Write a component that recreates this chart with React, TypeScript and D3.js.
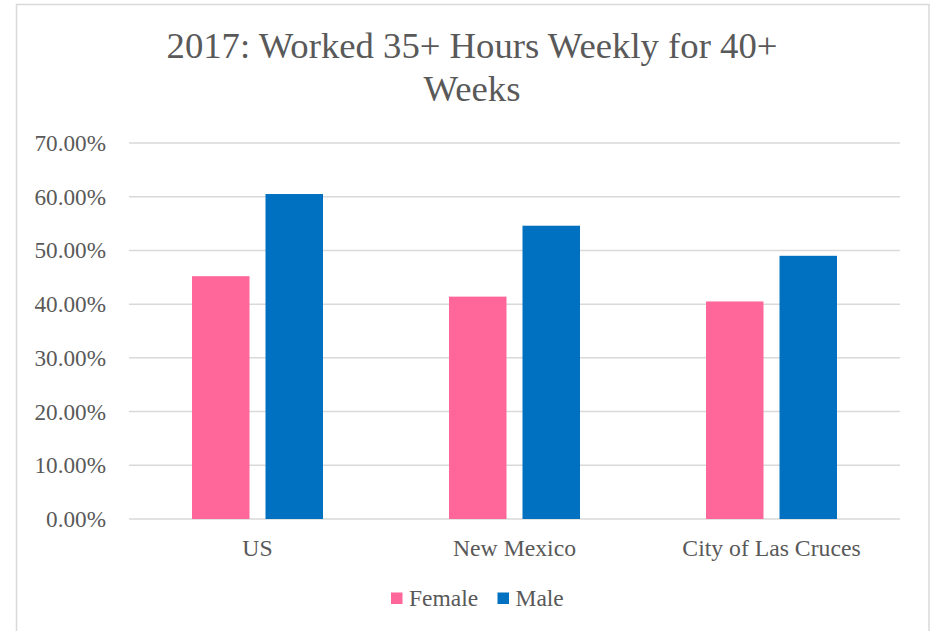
import React from "react";
import * as d3 from "d3";

const categories = ["US", "New Mexico", "City of Las Cruces"];
const series = ["Female", "Male"];
const femaleValues = [0.452, 0.414, 0.405];
const maleValues = [0.605, 0.546, 0.49];
const yTicks = [0, 0.1, 0.2, 0.3, 0.4, 0.5, 0.6, 0.7];
const colors = ["#FF6699", "#0070C0"];

export default function App() {
  const W = 934, H = 631;
  const left = 129, right = 900, top = 143, bottom = 519;
  const x = d3.scaleBand().domain(categories).range([left, right]);
  const y = d3.scaleLinear().domain([0, 0.7]).range([bottom, top]);
  const barW = 57.5, gap = 16;
  const groupW = barW * 2 + gap;
  const data = [femaleValues, maleValues];
  const fmt = d3.format(".2%");
  const font = "'Liberation Serif', 'Times New Roman', serif";
  const textColor = "#595959";
  return (
    <svg width={W} height={H} style={{ position: "absolute", left: 0, top: 0 }}>
      <rect x={0} y={0} width={W} height={H} fill="#fff" />
      <rect x={16.5} y={4.5} width={912.5} height={640} fill="#fff" stroke="#d9d9d9" strokeWidth={1.5} />
      <text x={472} y={58} textAnchor="middle" fontFamily={font} fontSize={36.7} fill={textColor}>
        2017: Worked 35+ Hours Weekly for 40+
      </text>
      <text x={472} y={101} textAnchor="middle" fontFamily={font} fontSize={36.7} fill={textColor}>
        Weeks
      </text>
      {yTicks.map((t) => (
        <g key={t}>
          <line x1={left} x2={right} y1={y(t)} y2={y(t)} stroke="#d9d9d9" strokeWidth={1.5} />
          <text x={106} y={y(t) + 8} textAnchor="end" fontFamily={font} fontSize={23.2} fill={textColor}>
            {fmt(t)}
          </text>
        </g>
      ))}
      {categories.map((c, i) => {
        const x0 = (x(c) as number) + (x.bandwidth() - groupW) / 2;
        return (
          <g key={c}>
            {data.map((vals, s) => (
              <rect
                key={s}
                x={x0 + s * (barW + gap)}
                y={y(vals[i])}
                width={barW}
                height={bottom - y(vals[i])}
                fill={colors[s]}
              />
            ))}
            <text
              x={(x(c) as number) + x.bandwidth() / 2}
              y={556}
              textAnchor="middle"
              fontFamily={font}
              fontSize={23.7}
              fill={textColor}
            >
              {c}
            </text>
          </g>
        );
      })}
      {series.map((s, i) => {
        const lx = [391, 497.5][i];
        return (
          <g key={s}>
            <rect x={lx} y={592.5} width={11.5} height={11.5} fill={colors[i]} />
            <text x={lx + 18} y={605.5} fontFamily={font} fontSize={23.5} fill={textColor}>
              {s}
            </text>
          </g>
        );
      })}
    </svg>
  );
}
